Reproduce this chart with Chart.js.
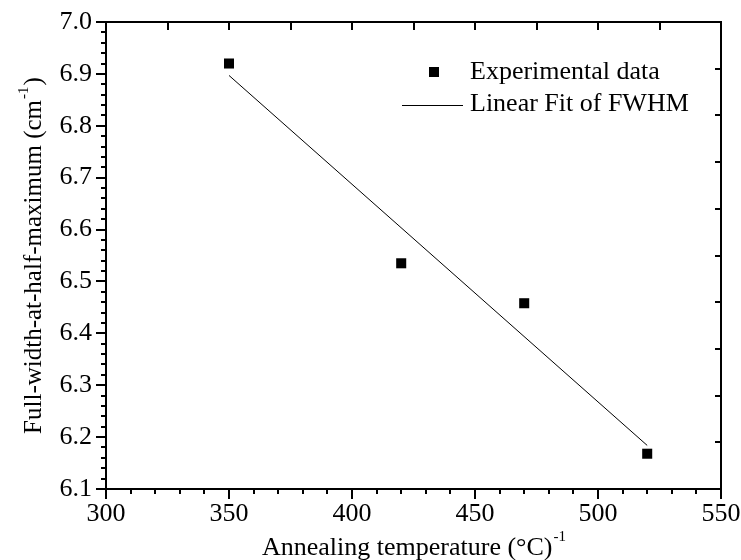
<!DOCTYPE html>
<html>
<head>
<meta charset="utf-8">
<script src="https://cdn.jsdelivr.net/npm/chart.js@4.4.1/dist/chart.umd.min.js"></script>
<style>
  html,body{margin:0;padding:0;background:#fff;}
  #wrap{width:741px;height:560px;}
</style>
</head>
<body>
<div id="wrap"><canvas id="myChart"></canvas></div>
<script>
// values
var tempX=[350,420,470,520];
var fwhmY=[6.92,6.535,6.458,6.168];
var fitX=[350,520];
var fitY=[6.897,6.184];

var xTitle='Annealing temperature (\u00B0C)';
var yTitle='Full-width-at-half-maximum (cm';
var legendNames=['Experimental data','Linear Fit of FWHM'];

var serif="'Liberation Serif','Times New Roman',serif";
var titleSize=25;
var supSize=15;
var xTitleSize=26;
var xSupSize=15;

function toPts(xs,ys){
    var out=[];
    for(var i=0;i<xs.length;i++){
        out.push({x:xs[i],y:ys[i]});
    }
    return out;
}

// frame, minor ticks, titles and legend
var extras={
    id:'extras',
    afterDraw:function(chart){
        var ctx=chart.ctx;
        var a=chart.chartArea;
        var sx=chart.scales.x, sy=chart.scales.y;
        ctx.save();
        ctx.strokeStyle='#000';
        ctx.lineWidth=2;
        ctx.strokeRect(a.left,a.top,a.right-a.left,a.bottom-a.top);

        ctx.beginPath();
        // minor bottom ticks
        for(var v=300;v<=550;v+=10){
            if(v%50===0) continue;
            var px=Math.round(sx.getPixelForValue(v));
            ctx.moveTo(px,a.bottom);ctx.lineTo(px,a.bottom+5);
        }
        // minor left ticks
        for(var j=0;j<=45;j++){
            if(j%5===0) continue;
            var py=Math.round(sy.getPixelForValue(6.1+j*0.02));
            ctx.moveTo(a.left,py);ctx.lineTo(a.left-5,py);
        }
        // top ticks, inward
        for(var k=1;k<10;k++){
            var tx=Math.round(a.left+(a.right-a.left)*k/10);
            ctx.moveTo(tx,a.top);ctx.lineTo(tx,a.top+8);
        }
        // right ticks, inward
        for(var m=1;m<10;m++){
            var ty=Math.round(a.top+(a.bottom-a.top)*m/10);
            ctx.moveTo(a.right,ty);ctx.lineTo(a.right-6,ty);
        }
        ctx.stroke();

        ctx.fillStyle='#000';
        // x title with superscript
        ctx.font=xTitleSize+'px '+serif;
        ctx.textBaseline='alphabetic';
        var wMain=ctx.measureText(xTitle).width;
        ctx.font=xSupSize+'px '+serif;
        var wSup=ctx.measureText('-1').width;
        var cx=(a.left+a.right)/2;
        var x0=cx-(wMain+wSup)/2;
        ctx.font=xTitleSize+'px '+serif;
        ctx.textAlign='left';
        ctx.fillText(xTitle,x0,555);
        ctx.font=xSupSize+'px '+serif;
        ctx.fillText('-1',x0+wMain+1,541);

        // y title, rotated
        ctx.save();
        ctx.translate(33,(a.top+a.bottom)/2);
        ctx.rotate(-Math.PI/2);
        ctx.font=titleSize+'px '+serif;
        var w1=ctx.measureText(yTitle).width;
        ctx.font=supSize+'px '+serif;
        var w2=ctx.measureText('-1').width;
        ctx.font=titleSize+'px '+serif;
        var w3=ctx.measureText(')').width;
        var tot=w1+w2+w3+2;
        var yx=-tot/2;
        ctx.font=titleSize+'px '+serif;
        ctx.fillText(yTitle,yx,8);
        ctx.font=supSize+'px '+serif;
        ctx.fillText('-1',yx+w1+1,-5);
        ctx.font=titleSize+'px '+serif;
        ctx.fillText(')',yx+w1+w2+2,8);
        ctx.restore();

        // legend
        ctx.fillRect(429,67,10,10);
        ctx.font='26px '+serif;
        ctx.textBaseline='middle';
        ctx.fillText(legendNames[0],470,72);
        ctx.lineWidth=1;
        ctx.beginPath();
        ctx.moveTo(402,105.5);ctx.lineTo(463,105.5);
        ctx.stroke();
        ctx.fillText(legendNames[1],470,104);
        ctx.restore();
    }
};

const data={
    datasets:[
        {
            label:legendNames[0],
            data:toPts(tempX,fwhmY),
            showLine:false,
            pointStyle:'rect',
            pointRadius:7.1,
            pointBackgroundColor:'#000',
            pointBorderWidth:0,
            borderColor:'#000'
        },
        {
            label:legendNames[1],
            data:toPts(fitX,fitY),
            showLine:true,
            pointRadius:0,
            borderColor:'#000',
            borderWidth:1
        }
    ]
};

const config={
    type:'scatter',
    data,
    options:{
        responsive:false,
        animation:false,
        layout:{padding:{top:22,right:20,left:0,bottom:0}},
        plugins:{
            legend:{display:false},
            tooltip:{enabled:false}
        },
        scales:{
            x:{
                type:'linear',
                min:300,
                max:550,
                afterFit:function(s){s.height=71;},
                ticks:{
                    stepSize:50,
                    color:'#000',
                    padding:0,
                    font:{family:serif,size:26}
                },
                grid:{drawOnChartArea:false,tickLength:10,lineWidth:2,color:'#000'},
                border:{display:true,width:2,color:'#000'}
            },
            y:{
                type:'linear',
                min:6.1,
                max:7.0,
                afterFit:function(s){s.width=106;},
                ticks:{
                    stepSize:0.1,
                    color:'#000',
                    padding:4,
                    font:{family:serif,size:26},
                    callback:function(v){return v.toFixed(1);}
                },
                grid:{drawOnChartArea:false,tickLength:10,lineWidth:2,color:'#000'},
                border:{display:true,width:2,color:'#000'}
            }
        }
    },
    plugins:[extras]
};

var cv=document.getElementById('myChart');
cv.width=741;cv.height=560;
const myChart=new Chart(cv,config);
</script>
</body>
</html>
